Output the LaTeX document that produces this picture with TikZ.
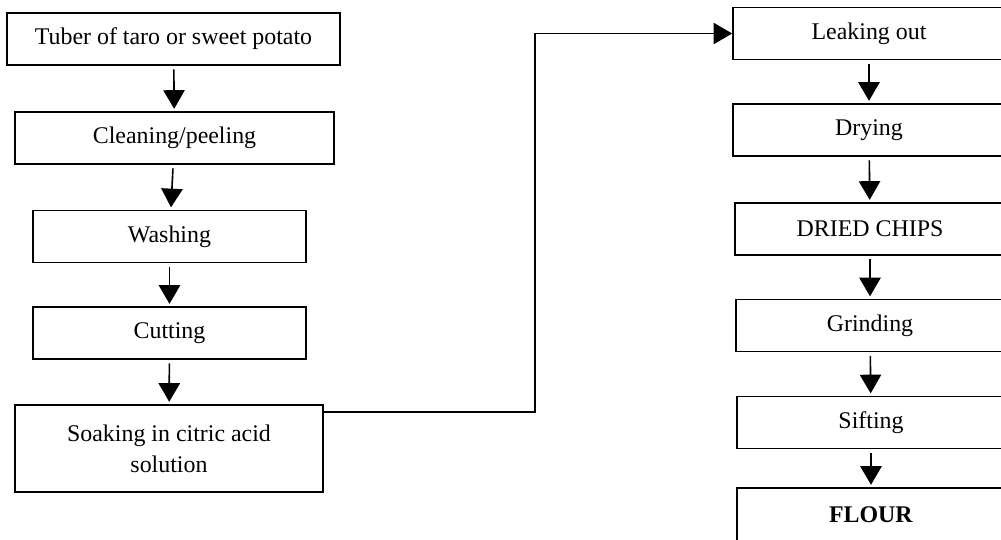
\documentclass[tikz,border=0pt]{standalone}
\usepackage{fontspec}
\setmainfont{Liberation Serif}
\usepackage{tikz}
\usetikzlibrary{arrows.meta, positioning}

\begin{document}
\begin{tikzpicture}[x=0.03cm, y=-0.03cm, >={Triangle[length=0.56cm,width=0.64cm]},
  stepbox/.style={draw, line width=1.4pt, inner sep=0pt, align=center,
    font=\fontsize{20.4}{26.5}\selectfont, minimum height=1.56cm},
  flow/.style={->, line width=1.4pt, shorten <=3pt, shorten >=2pt}]
\useasboundingbox (0,0) rectangle (1001,540);
\clip (0,0) rectangle (1001,540);
% left column
\node[stepbox, minimum width=9.99cm] (tuber) at (173.5,39) {Tuber of taro or sweet potato};
\node[stepbox, minimum width=9.57cm] (clean) at (174.5,138) {Cleaning/peeling};
\node[stepbox, minimum width=8.19cm] (wash) at (169.5,236.5) {Washing};
\node[stepbox, minimum width=8.19cm] (cut) at (169.5,333) {Cutting};
\node[stepbox, minimum width=9.24cm, minimum height=2.61cm] (soak) at (169,448.5) {Soaking in citric acid\\solution};
% right column
\node[stepbox, minimum width=8.16cm] (leak) at (869,33.5) {Leaking out};
\node[stepbox, minimum width=8.16cm] (dry) at (869,130) {Drying};
\node[stepbox, minimum width=8.10cm] (chips) at (870,229) {DRIED CHIPS};
\node[stepbox, minimum width=8.04cm] (grind) at (870,325.5) {Grinding};
\node[stepbox, minimum width=8.04cm] (sift) at (871,422.5) {Sifting};
\node[stepbox, minimum width=8.04cm, minimum height=1.62cm] (flour) at (871,515) {\textbf{FLOUR}};
% arrows
\draw[flow] (tuber) -- (clean);
\draw[flow] (clean) -- (wash);
\draw[flow] (wash) -- (cut);
\draw[flow] (cut) -- (soak);
\coordinate (turn) at (535,412);
\draw[->, line width=1.4pt] (soak.east |- turn) -- (turn) |- (leak.west);
\draw[flow] (leak) -- (dry);
\draw[flow] (dry) -- (chips);
\draw[flow] (chips) -- (grind);
\draw[flow] (grind) -- (sift);
\draw[flow] (sift) -- (flour);
\end{tikzpicture}
\end{document}
